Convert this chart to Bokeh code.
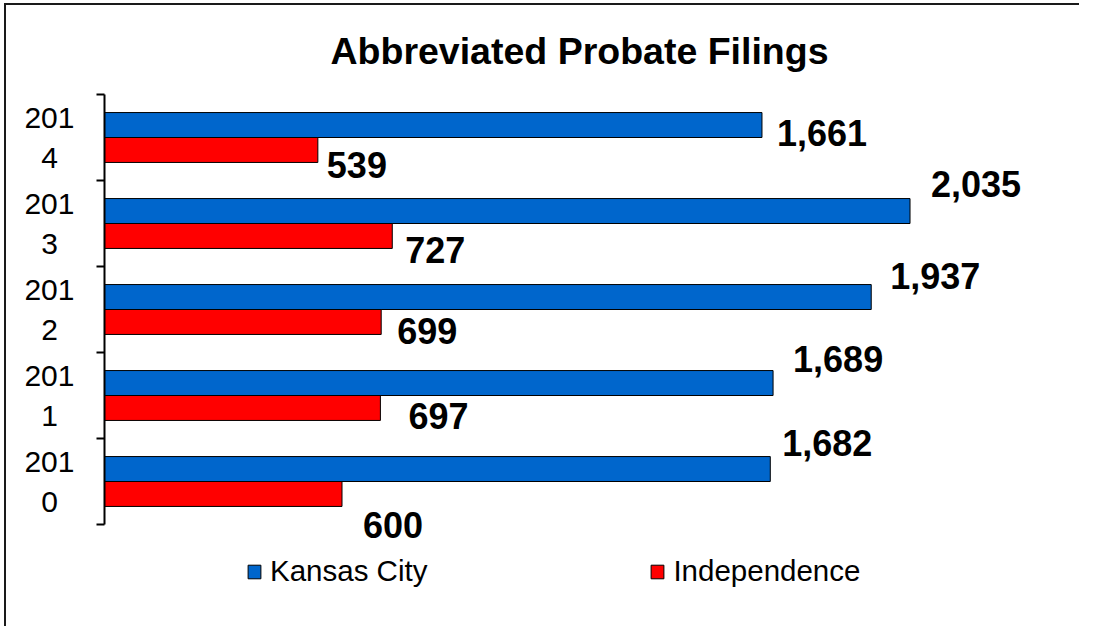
from bokeh.plotting import figure
from bokeh.models import ColumnDataSource, FixedTicker, LabelSet, Legend, LegendItem, Range1d, InlineStyleSheet
from bokeh.transform import dodge
from bokeh.core.properties import value
from bokeh.embed import file_html
from bokeh.resources import INLINE

# ---- data ----
years = [2010, 2011, 2012, 2013, 2014]
kansas_city = [1682, 1689, 1937, 2035, 1661]
independence = [600, 697, 699, 727, 539]
tick_labels = ["201\n0", "201\n1", "201\n2", "201\n3", "201\n4"]
series_names = ["Kansas City", "Independence"]

# ---- label placement (screen px offsets from bar end / bar centre) ----
kc_dx = [12, 20, 19, 21, 15]
kc_dy = [26.5, 24.5, 21.5, 27, -7.5]
ind_dx = [21, 28, 16, 13, 9]
ind_dy = [-31.5, -8.5, -9.5, -14.5, -15]

BLUE = "#0066CC"
RED = "#FF0000"
FONT = "Liberation Sans"

src = ColumnDataSource(dict(
    year=years,
    kc=kansas_city,
    ind=independence,
    kc_text=[f"{v:,}" for v in kansas_city],
    ind_text=[f"{v:,}" for v in independence],
    kc_dx=kc_dx, kc_dy=kc_dy, ind_dx=ind_dx, ind_dy=ind_dy,
))

W, H = 1079, 626          # fits the 1095x642 window with its 8px page margin
LEFT, TOP, RIGHT = 104, 94, 25
PX_PER_CAT = 86.0
frame_h = H - TOP
y_top = years[-1] + 0.5
y_bottom = y_top - frame_h / PX_PER_CAT

p = figure(
    width=W, height=H,
    x_range=Range1d(0, 2400), y_range=Range1d(y_bottom, y_top),
    output_backend="svg", toolbar_location=None,
    x_axis_location=None,
    min_border_left=LEFT, min_border_right=RIGHT, min_border_top=TOP, min_border_bottom=0,
)
p.outline_line_color = None
p.xgrid.visible = False
p.ygrid.visible = False
p.background_fill_color = "white"
p.border_fill_alpha = 0
# chart-area frame: only its top and left edges fall inside the picture;
# painted as the host background, seen through the transparent border area
p.stylesheets = [InlineStyleSheet(css=""":host {
  background:
    linear-gradient(#1a1a1a, #1a1a1a) 4px 3px / 2px 100% no-repeat,
    linear-gradient(#1a1a1a, #1a1a1a) 4px 3px / 100% 2px no-repeat,
    #ffffff;
}""")]

p.title.text = "Abbreviated Probate Filings"
p.title.align = "center"
p.title.text_font = FONT
p.title.text_font_size = "37.5px"
p.title.text_font_style = "bold"
p.title.text_color = "black"
p.title.standoff = 45

bar_h = 0.29
r_kc = p.hbar(y=dodge("year", 0.145, range=p.y_range), right="kc", left=0, height=bar_h,
              source=src, fill_color=BLUE, line_color="black", line_width=1)
r_ind = p.hbar(y=dodge("year", -0.145, range=p.y_range), right="ind", left=0, height=bar_h,
               source=src, fill_color=RED, line_color="black", line_width=1)

ax = p.yaxis[0]
ax.bounds = (years[0] - 0.5, years[-1] + 0.5)
ax.ticker = FixedTicker(ticks=years, minor_ticks=[y - 0.5 for y in years] + [years[-1] + 0.5])
# second line padded with no-break spaces so that it sits centred under the first
ax.major_label_overrides = {
    y: t.split("\n")[0] + "\n" + t.split("\n")[1] + "\u00a0\u00a0" for y, t in zip(years, tick_labels)
}
ax.major_tick_line_color = None
ax.major_tick_out = 0
ax.major_tick_in = 0
ax.minor_tick_line_color = "black"
ax.minor_tick_line_width = 2
ax.minor_tick_out = 8
ax.minor_tick_in = 0
ax.axis_line_color = "black"
ax.axis_line_width = 2
ax.major_label_standoff = 22
ax.major_label_text_font = FONT
ax.major_label_text_font_size = "30px"
ax.major_label_text_color = "black"

lbl_kc = LabelSet(x="kc", y=dodge("year", 0.145, range=p.y_range), text="kc_text", source=src,
                  x_offset="kc_dx", y_offset="kc_dy", text_align="left", text_baseline="middle",
                  text_font=value(FONT), text_font_size="36px", text_font_style="bold", text_color="black")
lbl_ind = LabelSet(x="ind", y=dodge("year", -0.145, range=p.y_range), text="ind_text", source=src,
                   x_offset="ind_dx", y_offset="ind_dy", text_align="left", text_baseline="middle",
                   text_font=value(FONT), text_font_size="36px", text_font_style="bold", text_color="black")
p.add_layout(lbl_kc)
p.add_layout(lbl_ind)

legend = Legend(
    items=[LegendItem(label=series_names[0], renderers=[r_kc]),
           LegendItem(label=series_names[1], renderers=[r_ind])],
    orientation="horizontal", location=(142, 38),
    glyph_width=16, glyph_height=17, label_standoff=8, spacing=222,
    padding=0, margin=0, border_line_color=None, background_fill_alpha=0,
    label_text_font=FONT, label_text_font_size="29.5px", label_text_color="black",
)
p.add_layout(legend)

open("out.html", "w").write(file_html(p, INLINE))
